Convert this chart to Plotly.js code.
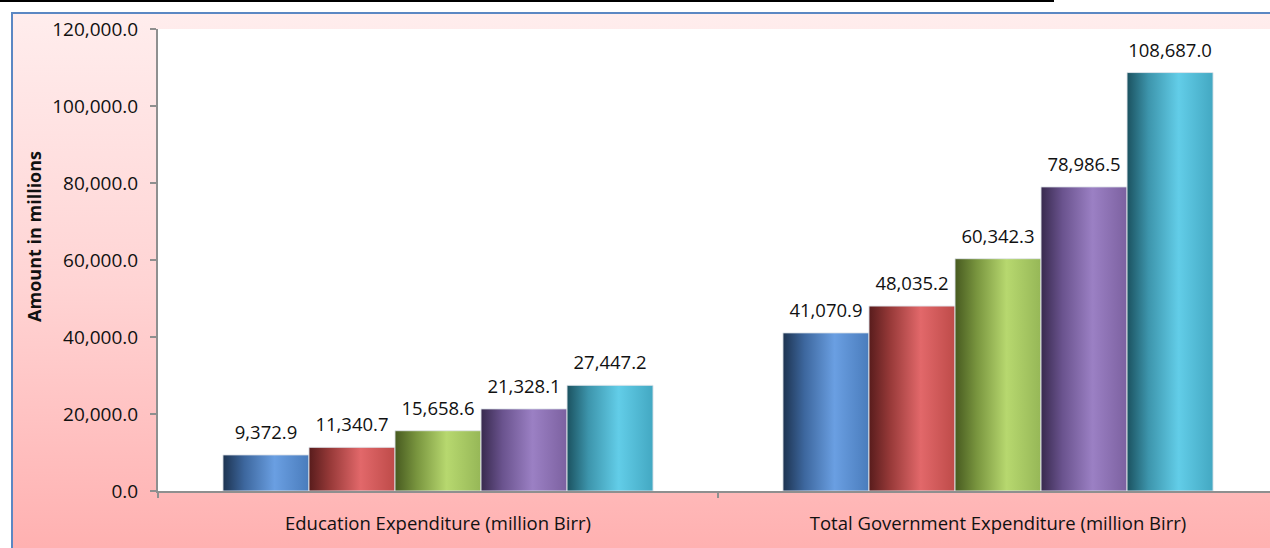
<!DOCTYPE html>
<html>
<head>
<meta charset="utf-8">
<script src="https://cdn.plot.ly/plotly-3.0.1.min.js"></script>
<style>
  html, body { margin: 0; padding: 0; overflow: hidden; background: #ffffff; }
  #wrap { position: relative; width: 1270px; height: 548px; overflow: hidden; background: #ffffff; }
  #topline { position: absolute; left: 0; top: 0; width: 1054px; height: 2px; background: #000; }
  #frame { position: absolute; left: 11px; top: 12px; width: 1300px; height: 600px;
           border-left: 2px solid #5b87c3; border-top: 2px solid #5b87c3;
           background: linear-gradient(to bottom, #ffeded 0%, #ffd4d4 45%, #ffa8a8 100%); }
  #chart { position: absolute; left: 0; top: 0; width: 1270px; height: 548px; }
</style>
</head>
<body>
<div id="wrap">
  <div id="topline"></div>
  <div id="frame"></div>
  <div id="chart"></div>
</div>
<script>
// ---- data ----
const categories = ['Education Expenditure (million Birr)', 'Total Government Expenditure (million Birr)'];
const seriesNames = ['Series 1', 'Series 2', 'Series 3', 'Series 4', 'Series 5'];
const series1 = [9372.9, 41070.9];
const series2 = [11340.7, 48035.2];
const series3 = [15658.6, 60342.3];
const series4 = [21328.1, 78986.5];
const series5 = [27447.2, 108687.0];
const yTickValues = [0, 20000, 40000, 60000, 80000, 100000, 120000];

// ---- styles ----
const allSeries = [series1, series2, series3, series4, series5];
const baseColors = ['#4f81bd', '#c0504d', '#9bbb59', '#8064a2', '#4bacc6'];
const gradStops = [
  ['#1d3350', '#3d679e', '#6a9fe2', '#4a7cbc'],
  ['#581c1c', '#983a39', '#e2686a', '#be4b49'],
  ['#475a20', '#78943e', '#b7d86f', '#96b757'],
  ['#382a4e', '#6a538e', '#9b80c4', '#7c61a0'],
  ['#1b5260', '#3d95ac', '#62cde8', '#43a8c2']
];
const FONT = '"Open Sans", "DejaVu Sans", sans-serif';

const traces = allSeries.map((vals, i) => ({
  type: 'bar',
  name: seriesNames[i],
  x: categories,
  y: vals,
  marker: { color: baseColors[i], line: { color: 'rgba(225,230,235,0.9)', width: 1 } },
  texttemplate: '%{y:,.1f}',
  textposition: 'outside',
  textfont: { family: FONT, size: 18.5, color: '#111111' },
  cliponaxis: false,
  hoverinfo: 'x+y+name'
}));

const layout = {
  width: 1270,
  height: 548,
  margin: { l: 158, r: 0, t: 29, b: 57 },
  paper_bgcolor: 'rgba(0,0,0,0)',
  plot_bgcolor: '#ffffff',
  showlegend: false,
  barmode: 'group',
  bargap: 0.232,
  bargroupgap: 0,
  font: { family: FONT, size: 18, color: '#111111' },
  xaxis: {
    type: 'category',
    range: [-0.5, 1.4857],
    showline: true, linecolor: '#8f8f8f', linewidth: 2,
    ticks: 'outside', tickson: 'boundaries', ticklen: 5, tickwidth: 2, tickcolor: '#8f8f8f',
    ticklabelstandoff: 15,
    tickfont: { family: FONT, size: 18.5, color: '#111111' },
    showgrid: false, zeroline: false, fixedrange: true
  },
  yaxis: {
    range: [0, 120000],
    tickvals: yTickValues,
    tickformat: ',.1f',
    showline: true, linecolor: '#8f8f8f', linewidth: 2,
    ticks: 'outside', ticklen: 6, tickwidth: 2, tickcolor: '#8f8f8f',
    ticklabelstandoff: 8,
    tickfont: { family: FONT, size: 19, color: '#111111' },
    showgrid: false, zeroline: false, fixedrange: true
  },
  annotations: [{
    text: '<b>Amount in millions</b>',
    textangle: -90,
    xref: 'paper', yref: 'paper',
    x: -0.1115, y: 0.55,
    xanchor: 'center', yanchor: 'middle',
    showarrow: false,
    font: { family: FONT, size: 18, color: '#111111' }
  }]
};

Plotly.newPlot('chart', traces, layout, { displayModeBar: false, staticPlot: true }).then(gd => {
  const svgNS = 'http://www.w3.org/2000/svg';
  const svg = gd.querySelector('svg.main-svg');
  const defs = document.createElementNS(svgNS, 'defs');
  gradStops.forEach((stops, i) => {
    const lg = document.createElementNS(svgNS, 'linearGradient');
    lg.setAttribute('id', 'bargrad' + i);
    lg.setAttribute('x1', '0'); lg.setAttribute('y1', '0');
    lg.setAttribute('x2', '1'); lg.setAttribute('y2', '0');
    const offs = [0, 0.25, 0.6, 1];
    stops.forEach((c, k) => {
      const st = document.createElementNS(svgNS, 'stop');
      st.setAttribute('offset', offs[k]);
      st.setAttribute('stop-color', c);
      lg.appendChild(st);
    });
    defs.appendChild(lg);
  });
  svg.insertBefore(defs, svg.firstChild);
  const barTraces = gd.querySelectorAll('.barlayer .trace.bars');
  barTraces.forEach((tr, i) => {
    tr.querySelectorAll('.point path').forEach(p => { p.style.fill = 'url(#bargrad' + i + ')'; });
    tr.querySelectorAll('.point text').forEach(t => {
      const old = t.getAttribute('transform') || '';
      t.setAttribute('transform', 'translate(0,-8) ' + old);
    });
  });
});
</script>
</body>
</html>
